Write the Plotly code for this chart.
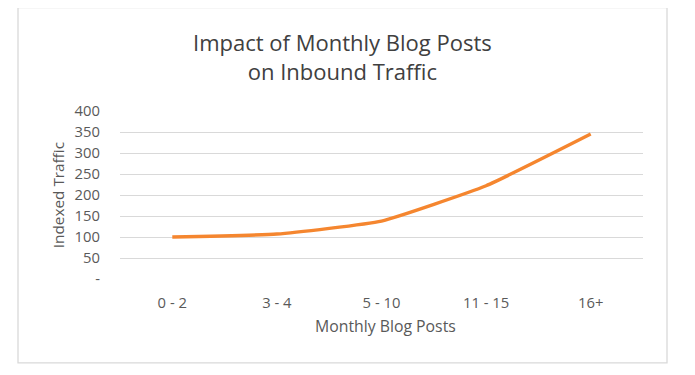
import plotly.graph_objects as go

categories = ["0 - 2", "3 - 4", "5 - 10", "11 - 15", "16+"]
traffic = [100, 107, 138, 222, 345]
y_tick_vals = [0, 50, 100, 150, 200, 250, 300, 350, 400]
y_tick_text = ["-", "50", "100", "150", "200", "250", "300", "350", "400"]

title_text = "Impact of Monthly Blog Posts<br>on Inbound Traffic"
x_title = "Monthly Blog Posts"
y_title = "Indexed Traffic"

FONT = "Open Sans"
TXT = "#595959"

# page has an 8px body margin; work in figure coordinates = page - 8
OFF = 8
W, H = 679, 359
PL, PR = 120 - OFF, 643 - OFF      # plot area left/right in figure px
PT, PB = 110.7 - OFF, 279 - OFF    # plot area top/bottom in figure px
PW, PH = PR - PL, PB - PT


def px(xpage):
    return (xpage - OFF - PL) / PW


def py(ypage):
    return (PB - (ypage - OFF)) / PH


fig = go.Figure()
fig.add_trace(go.Scatter(
    x=categories, y=traffic, mode="lines",
    line=dict(color="#F5862F", width=3.4, shape="spline", smoothing=0.4),
    hoverinfo="skip", showlegend=False,
))

fig.update_layout(
    width=W, height=H,
    margin=dict(l=PL, r=W - PR, t=PT, b=H - PB),
    paper_bgcolor="white", plot_bgcolor="white",
    font=dict(family=FONT, color=TXT, size=13),
    xaxis=dict(
        type="category", showgrid=False, showline=False, zeroline=False,
        ticks="", tickfont=dict(size=14.8, color=TXT, family=FONT),
        range=[-0.5, 4.5], fixedrange=True, ticklabelstandoff=13,
    ),
    yaxis=dict(
        range=[0, 400], tickvals=y_tick_vals, ticktext=y_tick_text,
        showgrid=True, gridcolor="#d9d9d9", gridwidth=1.3,
        zeroline=False, showline=False, ticks="",
        tickfont=dict(size=14.8, color=TXT, family=FONT), ticklabelstandoff=19,
    ),
    shapes=[dict(type="rect", xref="paper", yref="paper",
                 x0=px(18), x1=px(667), y0=py(363), y1=py(7),
                 line=dict(color="#d9d9d9", width=1.3), layer="below")],
    annotations=[
        dict(text=title_text, xref="paper", yref="paper",
             x=px(342), y=py(56), xanchor="center", yanchor="middle",
             showarrow=False, font=dict(size=22, color="#404040", family=FONT)),
        dict(text=x_title, xref="paper", yref="paper",
             x=px(385), y=py(326), xanchor="center", yanchor="middle",
             showarrow=False, font=dict(size=15.8, color=TXT, family=FONT)),
        dict(text=y_title, xref="paper", yref="paper", textangle=-90,
             x=px(58), y=py(195), xanchor="center", yanchor="middle",
             showarrow=False, font=dict(size=15.3, color=TXT, family=FONT)),
    ],
)

fig.write_html("out.html")
